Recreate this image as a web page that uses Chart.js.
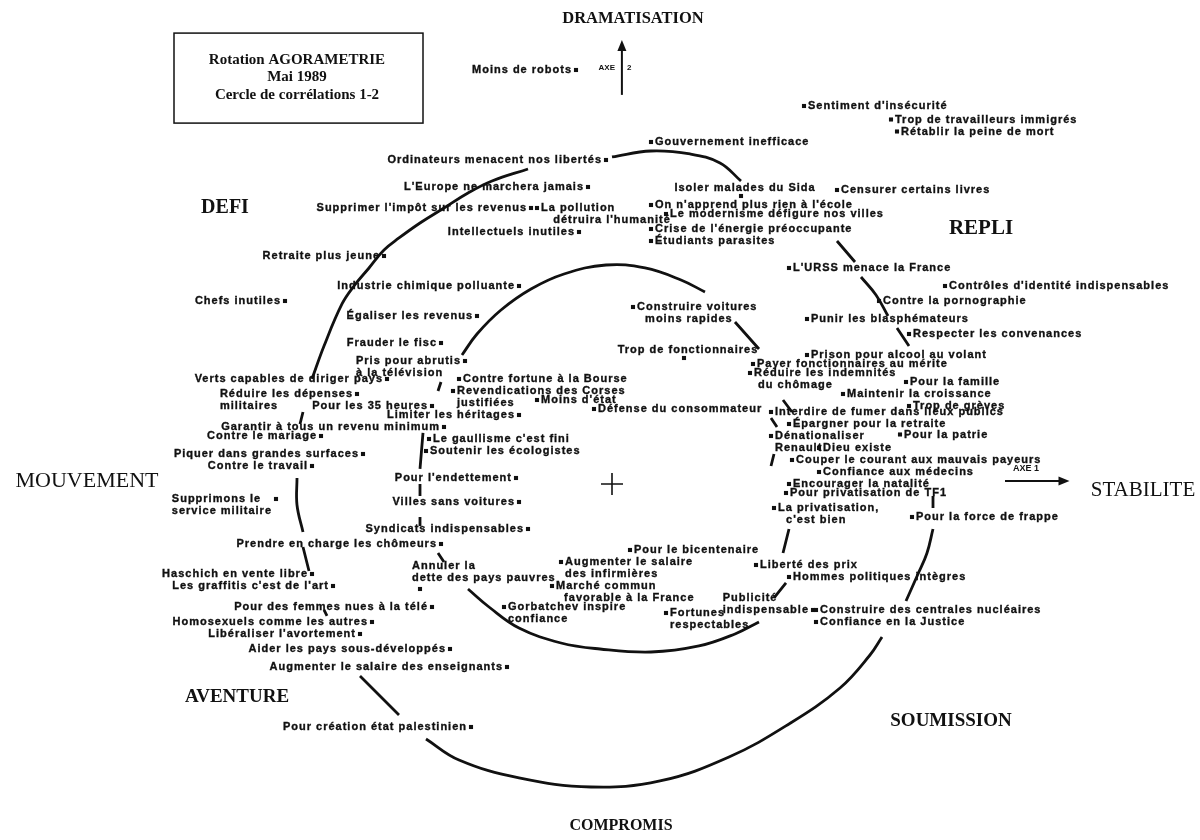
<!DOCTYPE html>
<html>
<head>
<meta charset="utf-8">
<script src="https://cdn.jsdelivr.net/npm/chart.js@4.4.1/dist/chart.umd.min.js"></script>
<style>
  html, body { margin: 0; padding: 0; background: #fff; }
  canvas { display: block; }
</style>
</head>
<body>
<canvas id="agoraChart" width="1200" height="840"></canvas>
<script>
// Attitudes (items) and their coordinates on axis 1 (mouvement -> stabilite) and axis 2 (compromis -> dramatisation)
const itemText = [
  "Moins de robots", "Sentiment d'insécurité", "Trop de travailleurs immigrés", "Rétablir la peine de mort",
  "Gouvernement inefficace", "Ordinateurs menacent nos libertés", "L'Europe ne marchera jamais", "Isoler malades du Sida",
  "Censurer certains livres", "On n'apprend plus rien à l'école", "Supprimer l'impôt sur les revenus", "La pollution\n   détruira l'humanité",
  "Le modernisme défigure nos villes", "Crise de l'énergie préoccupante", "Intellectuels inutiles", "Étudiants parasites",
  "Retraite plus jeune", "L'URSS menace la France", "Industrie chimique polluante", "Contrôles d'identité indispensables",
  "Chefs inutiles", "Contre la pornographie", "Construire voitures\n  moins rapides", "Égaliser les revenus",
  "Punir les blasphémateurs", "Respecter les convenances", "Frauder le fisc", "Trop de fonctionnaires",
  "Prison pour alcool au volant", "Pris pour abrutis\nà la télévision", "Payer fonctionnaires au mérite", "Réduire les indemnités\n du chômage",
  "Contre fortune à la Bourse", "Revendications des Corses\njustifiées", "Verts capables de diriger pays", "Réduire les dépenses\nmilitaires",
  "Pour les 35 heures", "Moins d'état", "Pour la famille", "Maintenir la croissance",
  "Trop de grèves", "Défense du consommateur", "Limiter les héritages", "Interdire de fumer dans lieux publics",
  "Garantir à tous un revenu minimum", "Épargner pour la retraite", "Pour la patrie", "Contre le mariage",
  "Le gaullisme c'est fini", "Soutenir les écologistes", "Dénationaliser\nRenault", "Dieu existe",
  "Piquer dans grandes surfaces", "Contre le travail", "Couper le courant aux mauvais payeurs", "Confiance aux médecins",
  "Pour l'endettement", "Encourager la natalité", "Pour privatisation de TF1", "Supprimons le\nservice militaire",
  "Villes sans voitures", "La privatisation,\n  c'est bien", "Pour la force de frappe", "Syndicats indispensables",
  "Prendre en charge les chômeurs", "Pour le bicentenaire", "Augmenter le salaire\ndes infirmières", "Liberté des prix",
  "Haschich en vente libre", "Annuler la\ndette des pays pauvres", "Hommes politiques intègres", "Marché commun\n  favorable à la France",
  "Les graffitis c'est de l'art", "Publicité\nindispensable", "Pour des femmes nues à la télé", "Gorbatchev inspire\nconfiance",
  "Fortunes\nrespectables", "Construire des centrales nucléaires", "Confiance en la Justice", "Homosexuels comme les autres",
  "Libéraliser l'avortement", "Aider les pays sous-développés", "Augmenter le salaire des enseignants", "Pour création état palestinien"
];
const axis1 = [
  -0.12, 0.64, 0.93, 0.95, 0.13, -0.02, -0.08, 0.43,
  0.75, 0.13, -0.27, -0.25, 0.18, 0.13, -0.11, 0.13,
  -0.76, 0.59, -0.31, 1.11, -1.09, 0.89, 0.07, -0.45,
  0.65, 0.99, -0.57, 0.24, 0.65, -0.49, 0.47, 0.46,
  -0.51, -0.53, -0.75, -0.85, -0.60, -0.25, 0.98, 0.77,
  0.99, -0.06, -0.31, 0.53, -0.56, 0.59, 0.96, -0.97,
  -0.61, -0.62, 0.53, 0.69, -0.83, -1.00, 0.60, 0.69,
  -0.32, 0.59, 0.58, -1.12, -0.31, 0.54, 1.00, -0.28,
  -0.57, 0.06, -0.17, 0.48, -1.00, -0.64, 0.59, -0.20,
  -0.93, 0.67, -0.60, -0.36, 0.18, 0.68, 0.68, -0.80,
  -0.84, -0.54, -0.35, -0.47
];
const axis2 = [
  1.38, 1.26, 1.215, 1.175, 1.14, 1.08, 0.99, 0.96,
  0.98, 0.93, 0.92, 0.92, 0.90, 0.85, 0.84, 0.81,
  0.76, 0.72, 0.66, 0.66, 0.61, 0.61, 0.59, 0.56,
  0.55, 0.50, 0.47, 0.42, 0.43, 0.41, 0.40, 0.37,
  0.35, 0.31, 0.35, 0.30, 0.26, 0.28, 0.34, 0.30,
  0.26, 0.25, 0.23, 0.24, 0.19, 0.20, 0.165, 0.16,
  0.15, 0.11, 0.16, 0.12, 0.10, 0.06, 0.08, 0.04,
  0.02, 0.00, -0.03, -0.05, -0.06, -0.08, -0.11, -0.15,
  -0.20, -0.22, -0.26, -0.27, -0.30, -0.35, -0.31, -0.34,
  -0.34, -0.42, -0.41, -0.41, -0.43, -0.42, -0.46, -0.46,
  -0.50, -0.55, -0.61, -0.81
];
// which side of the point the label sits on (R right, L left, LB left on last line, A above, T above-right)
const itemAnchor = [
  "L", "R", "R", "R", "R", "L", "L", "A",
  "R", "R", "L", "R", "R", "R", "L", "R",
  "L", "R", "L", "R", "L", "R", "R", "L",
  "R", "R", "L", "A", "R", "L", "R", "R",
  "R", "R", "L", "L", "L", "R", "R", "R",
  "R", "R", "L", "R", "L", "R", "R", "L",
  "R", "R", "R", "R", "L", "L", "R", "R",
  "L", "R", "R", "L", "L", "R", "R", "L",
  "L", "R", "R", "R", "L", "T", "R", "R",
  "L", "LB", "L", "R", "R", "R", "R", "L",
  "L", "L", "L", "L"
];

// Hand-drawn outer and inner contours (null breaks the line where text covers it)
const outerX = [0, 0.13, 0.26, 0.36, 0.43, null, 0.75, 0.81, null, 0.83, 0.88, 0.92, null, 0.95, 0.99, null,
  1.07, 1.07, null, 1.07, 1.05, 1.02, 0.98, null,
  0.90, 0.86, 0.76, 0.59, 0.39, 0.16, -0.07, -0.31, -0.51, -0.62, null,
  -0.71, -0.84, null, -0.95, -0.96, null, -1.01, -1.03, null, -1.03, -1.05, -1.05, null, -1.04, -1.03, null,
  -1.00, -0.96, -0.90, -0.86, -0.81, -0.76, -0.71, -0.64, -0.56, -0.48, -0.40, -0.28];
const outerY = [1.09, 1.11, 1.10, 1.07, 1.01, null, 0.81, 0.74, null, 0.69, 0.63, 0.56, null, 0.52, 0.46, null,
  -0.04, -0.08, null, -0.15, -0.23, -0.30, -0.39, null,
  -0.51, -0.57, -0.68, -0.80, -0.91, -0.99, -1.01, -0.98, -0.92, -0.85, null,
  -0.77, -0.64, null, -0.44, -0.42, null, -0.29, -0.21, null, -0.16, -0.07, 0.02, null, 0.20, 0.24, null,
  0.35, 0.46, 0.60, 0.66, 0.72, 0.78, 0.82, 0.87, 0.92, 0.97, 1.01, 1.05];
const innerX = [-0.58, -0.57, null, -0.50, -0.45, -0.37, -0.27, -0.16, -0.02, 0.11, 0.23, 0.31, null,
  0.41, 0.49, null, 0.57, 0.60, null, 0.53, 0.55, null, 0.54, 0.53, null, 0.59, 0.57, null, 0.58, 0.54, null,
  0.49, 0.41, 0.29, 0.13, -0.04, -0.17, -0.31, -0.41, -0.48, null,
  -0.56, -0.58, null, -0.64, -0.64, null, -0.64, -0.64, null, -0.64, -0.63];
const innerY = [0.31, 0.34, null, 0.43, 0.50, 0.58, 0.65, 0.70, 0.73, 0.72, 0.68, 0.64, null,
  0.54, 0.45, null, 0.28, 0.24, null, 0.22, 0.19, null, 0.10, 0.06, null, -0.15, -0.23, null, -0.33, -0.38, null,
  -0.46, -0.50, -0.54, -0.56, -0.55, -0.53, -0.48, -0.41, -0.35, null,
  -0.26, -0.23, null, -0.14, -0.11, null, -0.04, 0.00, null, 0.05, 0.17];

const titleLines = ["Rotation AGORAMETRIE", "Mai 1989", "Cercle de corrélations 1-2"];
const poleNames = ["DRAMATISATION", "DEFI", "REPLI", "MOUVEMENT", "STABILITE", "AVENTURE", "SOUMISSION", "COMPROMIS"];
const poleX = [0.07, -1.29, 1.23, -1.75, 1.77, -1.25, 1.13, 0.03];
const poleY = [1.55, 0.92, 0.85, 0.01, -0.02, -0.71, -0.79, -1.14];

const ink = "#111";
const labelSize = 11;
const labelSpacing = 1.0;
const lineStep = 12;
const poleFont = {
  DRAMATISATION: "bold 16.5px", DEFI: "bold 20px", REPLI: "bold 21px", MOUVEMENT: "22px",
  STABILITE: "21px", AVENTURE: "bold 19px", SOUMISSION: "bold 19px", COMPROMIS: "bold 16px"
};

const toPoints = (xs, ys) => xs.map((v, i) => ({ x: v, y: ys[i] }));

const textWidth = function(ctx, s) {
  ctx.letterSpacing = "0px";
  const w = ctx.measureText(s).width + s.length * labelSpacing;
  ctx.letterSpacing = labelSpacing + "px";
  return w;
};

const arrow = function(ctx, x0, y0, x1, y1) {
  const a = Math.atan2(y1 - y0, x1 - x0);
  ctx.beginPath();
  ctx.moveTo(x0, y0);
  ctx.lineTo(x1 - 8 * Math.cos(a), y1 - 8 * Math.sin(a));
  ctx.stroke();
  ctx.beginPath();
  ctx.moveTo(x1, y1);
  ctx.lineTo(x1 - 11 * Math.cos(a) + 4.5 * Math.sin(a), y1 - 11 * Math.sin(a) - 4.5 * Math.cos(a));
  ctx.lineTo(x1 - 11 * Math.cos(a) - 4.5 * Math.sin(a), y1 - 11 * Math.sin(a) + 4.5 * Math.cos(a));
  ctx.closePath();
  ctx.fill();
};

// Labels, poles, title box and axis arrows
const annotatePlugin = {
  id: "annotate",
  afterDatasetsDraw(chart) {
    const ctx = chart.ctx;
    const px = v => chart.scales.x.getPixelForValue(v);
    const py = v => chart.scales.y.getPixelForValue(v);
    ctx.save();
    ctx.fillStyle = ink;
    ctx.strokeStyle = ink;
    ctx.textBaseline = "middle";
    ctx.textAlign = "left";

    // item labels (a thin stroke thickens the letters like the printed original)
    ctx.font = "bold " + labelSize + "px 'Liberation Sans', Arial, sans-serif";
    ctx.lineWidth = 0.35;
    itemText.forEach((t, i) => {
      const lines = t.split("\n");
      const X = px(axis1[i]), Y = py(axis2[i]);
      const w = Math.max(...lines.map(l => textWidth(ctx, l)));
      const extra = (lines.length - 1) * lineStep;
      let left = X + 4, top = Y;
      switch (itemAnchor[i]) {
        case "L": left = X - 4 - w; break;
        case "LB": left = X - 4 - w; top = Y - extra; break;
        case "A": left = X + 4 - w / 2; top = Y - 8 - extra; break;
        case "T": left = X - 8; top = Y - 11 - extra; break;
      }
      ctx.letterSpacing = labelSpacing + "px";
      lines.forEach((l, k) => {
        ctx.fillText(l, left, top + k * lineStep);
        ctx.strokeText(l, left, top + k * lineStep);
      });
    });
    ctx.letterSpacing = "0px";

    // poles
    ctx.textAlign = "center";
    poleNames.forEach((n, i) => {
      ctx.font = poleFont[n] + " 'Liberation Serif', 'Times New Roman', serif";
      ctx.fillText(n, px(poleX[i]), py(poleY[i]));
    });

    // title box
    ctx.lineWidth = 1.5;
    const bx = px(-1.46), by = py(1.503);
    ctx.strokeRect(bx, by, px(-0.63) - bx, py(1.203) - by);
    ctx.font = "bold 15px 'Liberation Serif', 'Times New Roman', serif";
    titleLines.forEach((l, k) => ctx.fillText(l, px(-1.05), py(1.413) + k * 17.5));

    // axis arrows
    ctx.lineWidth = 2;
    arrow(ctx, px(0.033), py(1.297), px(0.033), py(1.48));
    arrow(ctx, px(1.31), py(0.01), px(1.525), py(0.01));
    ctx.font = "bold 8px 'Liberation Sans', Arial, sans-serif";
    ctx.textAlign = "right";
    ctx.fillText("AXE", px(0.01), py(1.387));
    ctx.textAlign = "left";
    ctx.fillText("2", px(0.05), py(1.387));
    ctx.font = "bold 9px 'Liberation Sans', Arial, sans-serif";
    ctx.textAlign = "center";
    ctx.fillText("AXE 1", px(1.38), py(0.053));
    ctx.restore();
  }
};

const lineStyle = {
  type: "line",
  showLine: true,
  borderColor: ink,
  borderWidth: 2.8,
  pointRadius: 0,
  tension: 0.4,
  spanGaps: false,
  fill: false
};

new Chart(document.getElementById("agoraChart"), {
  type: "scatter",
  data: {
    datasets: [
      Object.assign({ data: toPoints(outerX, outerY) }, lineStyle),
      Object.assign({ data: toPoints(innerX, innerY) }, lineStyle),
      {
        data: toPoints(axis1, axis2),
        pointStyle: "rect",
        pointRadius: 2.9,
        backgroundColor: ink,
        borderWidth: 0
      },
      {
        data: [{ x: 0, y: 0 }],
        pointStyle: "cross",
        pointRadius: 11,
        borderColor: ink,
        borderWidth: 1.6
      }
    ]
  },
  options: {
    responsive: false,
    animation: false,
    layout: { padding: 0, autoPadding: false },
    plugins: { legend: { display: false }, tooltip: { enabled: false } },
    scales: {
      x: { type: "linear", display: false, min: -2.04, max: 1.96 },
      y: { type: "linear", display: false, min: -1.1867, max: 1.6133 }
    }
  },
  plugins: [annotatePlugin]
});
</script>
</body>
</html>
